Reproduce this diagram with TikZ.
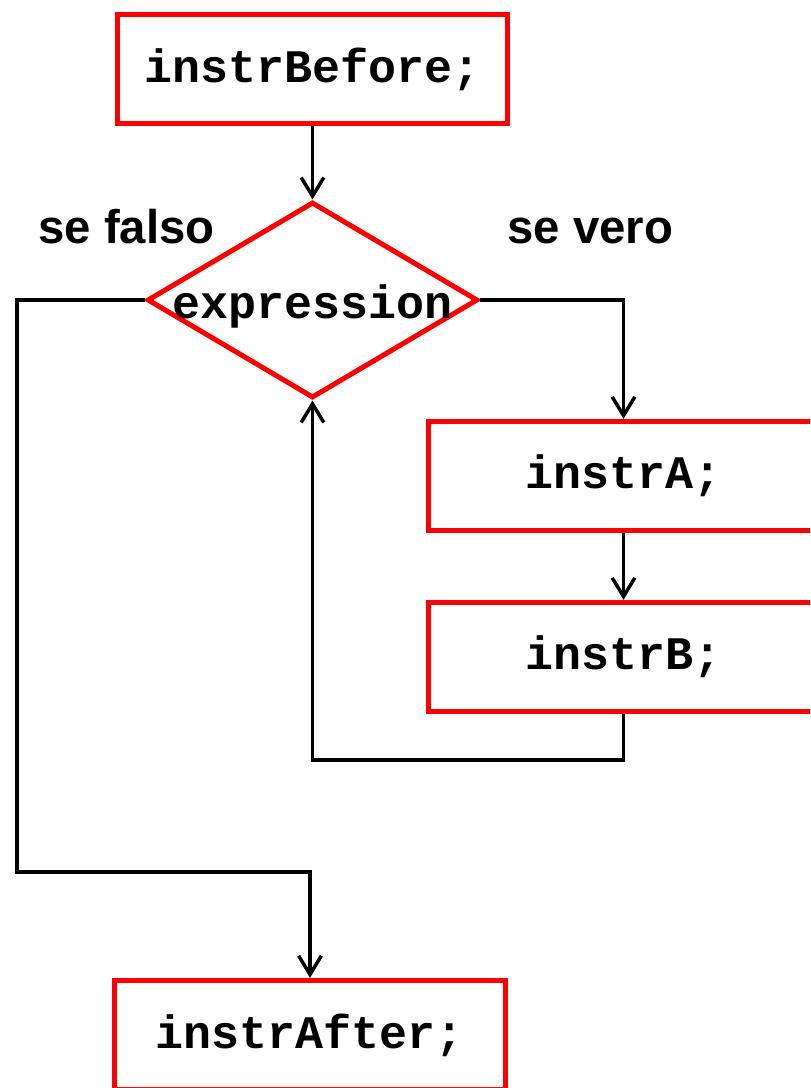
\documentclass[tikz,border=0pt]{standalone}
\usepackage{fontspec}
\setmainfont{Liberation Sans}
\setmonofont{Liberation Mono}
\usetikzlibrary{shapes.geometric,arrows.meta}

\begin{document}
\begin{tikzpicture}[x=0.75pt, y=-0.75pt,
		instr/.style={draw=red, line width=3.75pt, minimum width=293pt, minimum height=82pt, inner sep=0pt,
			font=\fontsize{35}{40}\selectfont\ttfamily\bfseries},
		test/.style={diamond, draw=red, line width=3.75pt, minimum width=248pt, minimum height=147pt, inner sep=0pt},
		flow/.style={line width=2.6pt, -{Straight Barb[length=14pt, width=17pt]}},
		side/.style={font=\fontsize{35.5}{40}\selectfont\bfseries, anchor=base}]
			\clip (0,0) rectangle (810,1088);
			\node[instr] (before) at (312.5,69) {instrBefore;};
			\node[test] (cond) at (312.5,300) {};
			\node[font=\fontsize{35}{40}\selectfont\ttfamily\bfseries] (expr) at (312.5,306) {expression};
			\node[instr] (instrA) at (623.5,476) {instrA;};
			\node[instr] (instrB) at (623.5,657) {instrB;};
			\node[instr] (after) at (310,1035) {instrAfter;};
			\node[side] (no) at (126.5,243) {se falso};
			\node[side] (yes) at (590.5,243) {se vero};
			\coordinate (back) at (312.5,760);
			\coordinate (out) at (17,872);
			\draw[flow] (before) -- (cond);
			\draw[flow] (cond.east) -| (instrA.north);
			\draw[flow] (instrA) -- (instrB);
			\draw[flow] (instrB.south) |- (back) -- (cond.south);
			\draw[flow] (cond.west) -| (out) -| (after.north);
		\end{tikzpicture}
\end{document}
